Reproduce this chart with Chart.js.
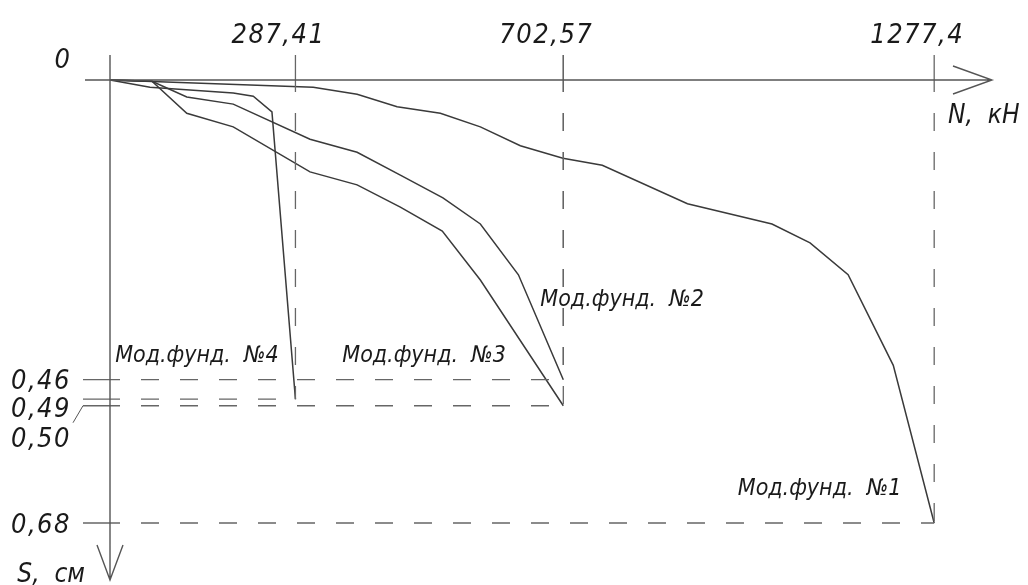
<!DOCTYPE html>
<html>
<head>
<meta charset="utf-8">
<script src="https://cdn.jsdelivr.net/npm/chart.js@4.4.1/dist/chart.umd.min.js"></script>
<style>
  html, body { margin: 0; padding: 0; background: #fff; }
  canvas { display: block; }
</style>
</head>
<body>
<canvas id="settlementChart" width="1028" height="585"></canvas>
<script>
// load N, kN and settlement S, cm
const n1 = [0, 315, 383, 445, 512, 574, 636, 702, 763, 895, 1026, 1085, 1144, 1214, 1277.4];
const s1 = [0, 0.011, 0.022, 0.041, 0.051, 0.072, 0.101, 0.120, 0.131, 0.190, 0.221, 0.250, 0.299, 0.438, 0.68];
const n2 = [0, 65, 119, 191, 310, 383, 450, 516, 574, 633, 702.57];
const s2 = [0, 0.002, 0.026, 0.037, 0.091, 0.111, 0.146, 0.181, 0.221, 0.299, 0.46];
const n3 = [0, 65, 119, 191, 310, 383, 450, 515, 574, 702.57];
const s3 = [0, 0.002, 0.051, 0.072, 0.141, 0.161, 0.195, 0.232, 0.307, 0.50];
const n4 = [0, 62, 191, 222, 251, 287.41];
const s4 = [0, 0.011, 0.020, 0.025, 0.049, 0.49];

const nTicks = [287.41, 702.57, 1277.4];
const sTicks = [0.46, 0.49, 0.50, 0.68];
const names = ['Мод.фунд.  №1', 'Мод.фунд.  №2', 'Мод.фунд.  №3', 'Мод.фунд.  №4'];
// where each caption sits, in kN / cm
const nameN = [973, 667, 360, 8];
const nameS = [0.637, 0.347, 0.433, 0.433];

const curves = [[n1, s1], [n2, s2], [n3, s3], [n4, s4]];
const fmt = v => String(v).replace('.', ',').replace(/^0,5$/, '0,50');

const FONT = "'DejaVu Sans Condensed', 'DejaVu Sans', sans-serif";

function dashedLine(ctx, ax, ay, bx, by) {
  const len = Math.hypot(bx - ax, by - ay);
  const ux = (bx - ax) / len, uy = (by - ay) / len;
  const head = Math.min(37, len);
  ctx.setLineDash([]);
  ctx.beginPath();
  ctx.moveTo(ax, ay);
  ctx.lineTo(ax + ux * head, ay + uy * head);
  ctx.stroke();
  if (len > 58) {
    ctx.setLineDash([18, 21]);
    ctx.beginPath();
    ctx.moveTo(ax + ux * 58, ay + uy * 58);
    ctx.lineTo(bx, by);
    ctx.stroke();
  }
  ctx.setLineDash([]);
}

const drawing = {
  id: 'drawing',
  afterDatasetsDraw(chart) {
    const { ctx, scales: { x, y } } = chart;
    const x0 = x.getPixelForValue(0);
    const y0 = y.getPixelForValue(0);
    ctx.save();

    // guide lines to the end of each curve
    ctx.strokeStyle = '#666';
    ctx.lineWidth = 1.3;
    curves.forEach(([n, s]) => {
      const xe = x.getPixelForValue(n[n.length - 1]);
      const ye = y.getPixelForValue(s[s.length - 1]);
      dashedLine(ctx, x0 - 27, ye, xe, ye);
      dashedLine(ctx, xe, y0 - 25, xe, ye);
    });

    // axes with arrows
    ctx.strokeStyle = '#555';
    ctx.lineWidth = 1.4;
    ctx.beginPath();
    ctx.moveTo(x0 - 25, y0); ctx.lineTo(x.right, y0);
    ctx.moveTo(x.right - 39, y0 - 14); ctx.lineTo(x.right, y0); ctx.lineTo(x.right - 39, y0 + 14);
    ctx.moveTo(x0, y0 - 25); ctx.lineTo(x0, y.bottom);
    ctx.moveTo(x0 - 13, y.bottom - 35); ctx.lineTo(x0, y.bottom); ctx.lineTo(x0 + 13, y.bottom - 35);
    ctx.stroke();

    // leader from 0,50 line to its label
    const y50 = y.getPixelForValue(0.50);
    ctx.lineWidth = 1;
    ctx.beginPath();
    ctx.moveTo(x0 - 27, y50); ctx.lineTo(x0 - 37, y50 + 17);
    ctx.stroke();

    ctx.fillStyle = '#1a1a1a';
    ctx.textBaseline = 'alphabetic';

    // tick labels
    ctx.font = 'italic 27px ' + FONT;
    ctx.letterSpacing = '1.5px';
    ctx.textAlign = 'center';
    nTicks.forEach(v => ctx.fillText(fmt(v), x.getPixelForValue(v) - 17, y0 - 37));
    const sDy = [9, 18, 41, 10];
    ctx.textAlign = 'right';
    sTicks.forEach((v, i) => ctx.fillText(fmt(v), x0 - 39, y.getPixelForValue(v) + sDy[i]));
    ctx.textAlign = 'center';
    ctx.fillText('0', x0 - 47, y0 - 12);

    // axis titles
    ctx.font = 'italic 26px ' + FONT;
    ctx.letterSpacing = '0px';
    ctx.textAlign = 'left';
    ctx.fillText('N,  кН', x.right - 44, y0 + 43);
    ctx.textAlign = 'right';
    ctx.fillText('S,  см', x0 - 25, y.bottom + 2);

    // curve captions
    ctx.font = 'italic 23px ' + FONT;
    ctx.textAlign = 'left';
    names.forEach((t, i) => ctx.fillText(t, x.getPixelForValue(nameN[i]), y.getPixelForValue(nameS[i])));

    ctx.restore();
  }
};

new Chart(document.getElementById('settlementChart'), {
  type: 'scatter',
  data: {
    datasets: curves.map(([n, s], i) => ({
      label: names[i],
      data: n.map((v, k) => ({ x: v, y: s[k] })),
      showLine: true,
      borderColor: '#3a3a3a',
      borderWidth: 1.5,
      pointRadius: 0,
      tension: 0,
      clip: false
    }))
  },
  options: {
    responsive: false,
    animation: false,
    devicePixelRatio: 1,
    layout: { padding: { left: 110, top: 80, right: 36, bottom: 5 } },
    scales: {
      x: { type: 'linear', min: 0, max: 1367, display: false },
      y: { type: 'linear', min: 0, max: 0.7675, reverse: true, display: false }
    },
    plugins: {
      legend: { display: false },
      tooltip: { enabled: false }
    }
  },
  plugins: [drawing]
});
</script>
</body>
</html>
